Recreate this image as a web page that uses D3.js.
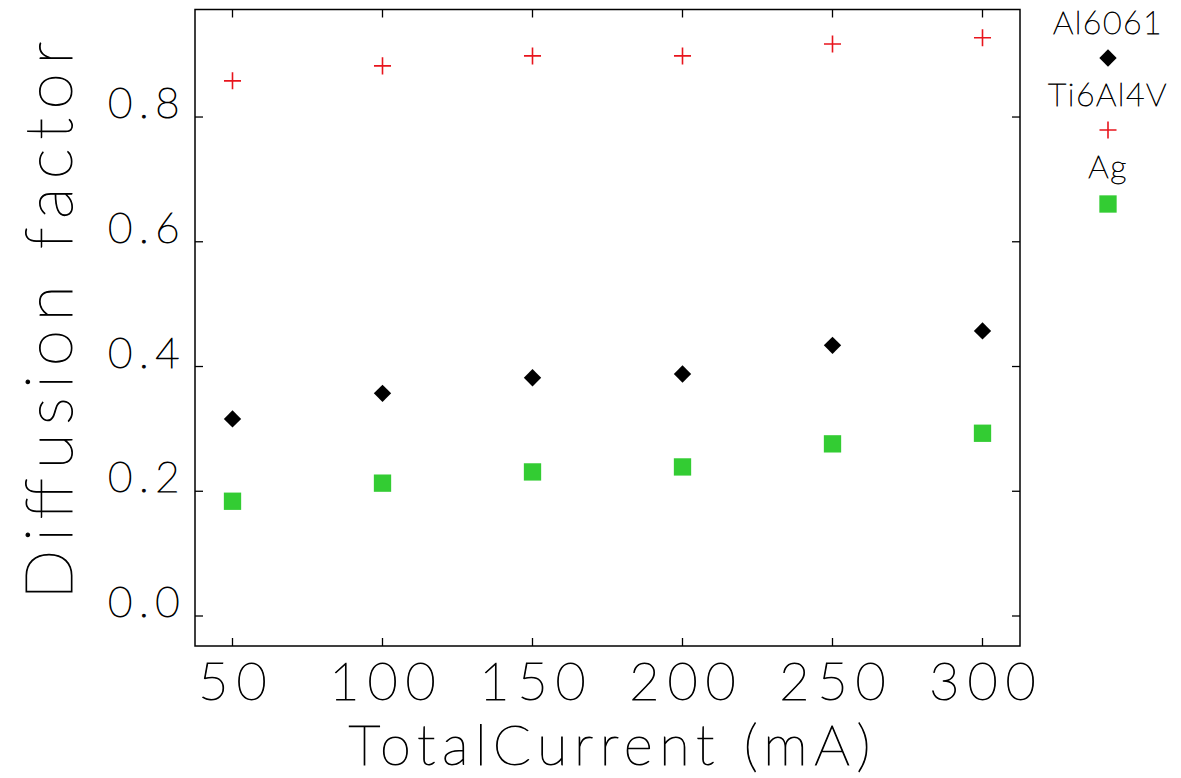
<!DOCTYPE html>
<html lang="en">
<head>
    <meta charset="UTF-8">
    <title>Diffusion factor vs Total Current</title>
    <script src="https://d3js.org/d3.v7.min.js"></script>
    <style>
        body {
            margin: 0;
            background: #fff;
        }
        svg text {
            font-family: Lato, "DejaVu Sans", sans-serif;
            font-weight: 200;
            fill: #000;
            stroke: #000;
            stroke-width: 1;
        }
        .frame {
            fill: none;
            stroke: #000;
            stroke-width: 1.5;
        }
        .tick-mark {
            stroke: #000;
            stroke-width: 1.3;
        }
    </style>
</head>
<body>
    <svg id="chart" width="1181" height="778"></svg>
    <script>
        // data
        const currents = [50, 100, 150, 200, 250, 300];
        const al6061 = [0.316, 0.357, 0.382, 0.388, 0.434, 0.457];
        const ti6al4v = [0.858, 0.882, 0.898, 0.898, 0.917, 0.927];
        const ag = [0.184, 0.213, 0.231, 0.239, 0.276, 0.293];
        const xTicks = [50, 100, 150, 200, 250, 300];
        const yTicks = [0.0, 0.2, 0.4, 0.6, 0.8];

        const plot = { left: 195, right: 1020, top: 9.5, bottom: 646 };

        const svg = d3.select("#chart");

        const x = d3.scaleLinear().domain([37.5, 312.5]).range([plot.left, plot.right]);
        const y = d3.scaleLinear().domain([-0.0481, 0.9724]).range([plot.bottom, plot.top]);

        // custom thin plus marker
        const plusType = {
            draw(ctx, size) {
                const r = Math.sqrt(size) / 2;
                ctx.moveTo(-r, 0); ctx.lineTo(r, 0);
                ctx.moveTo(0, -r); ctx.lineTo(0, r);
            }
        };

        const series = [
            { name: "Al6061", values: al6061, type: d3.symbolSquare, size: 150, rotate: 45, fill: "#000", stroke: "none" },
            { name: "Ti6Al4V", values: ti6al4v, type: plusType, size: 290, rotate: 0, fill: "none", stroke: "#e8141c" },
            { name: "Ag", values: ag, type: d3.symbolSquare, size: 300, rotate: 0, fill: "#33cc33", stroke: "none" }
        ];

        // frame
        svg.append("rect")
            .attr("class", "frame")
            .attr("x", plot.left)
            .attr("y", plot.top)
            .attr("width", plot.right - plot.left)
            .attr("height", plot.bottom - plot.top);

        const tickLen = 8;

        // x ticks (bottom and top, pointing inward)
        xTicks.forEach(t => {
            svg.append("line").attr("class", "tick-mark")
                .attr("x1", x(t)).attr("x2", x(t))
                .attr("y1", plot.bottom).attr("y2", plot.bottom - tickLen);
            svg.append("line").attr("class", "tick-mark")
                .attr("x1", x(t)).attr("x2", x(t))
                .attr("y1", plot.top).attr("y2", plot.top + tickLen);
            svg.append("text")
                .attr("x", x(t))
                .attr("y", plot.bottom + 54)
                .attr("text-anchor", "middle")
                .attr("font-size", 52)
                .attr("letter-spacing", 8)
                .attr("dx", 4)
                .text(t);
        });

        // y ticks (left and right, pointing inward)
        yTicks.forEach(t => {
            svg.append("line").attr("class", "tick-mark")
                .attr("x1", plot.left).attr("x2", plot.left + tickLen)
                .attr("y1", y(t)).attr("y2", y(t));
            svg.append("line").attr("class", "tick-mark")
                .attr("x1", plot.right).attr("x2", plot.right - tickLen)
                .attr("y1", y(t)).attr("y2", y(t));
            svg.append("text")
                .attr("x", plot.left - 9)
                .attr("y", y(t) + 1)
                .attr("text-anchor", "end")
                .attr("font-size", 42)
                .attr("letter-spacing", 6.5)
                .text(d3.format(".1f")(t));
        });

        // axis titles
        svg.append("text")
            .attr("x", (plot.left + plot.right) / 2 + 2)
            .attr("y", 765)
            .attr("text-anchor", "middle")
            .attr("font-size", 56)
            .attr("textLength", 522)
            .attr("lengthAdjust", "spacing")
            .text("TotalCurrent (mA)");

        svg.append("text")
            .attr("transform", `translate(72,${(plot.top + plot.bottom) / 2 - 7}) rotate(-90)`)
            .attr("text-anchor", "middle")
            .attr("font-size", 66)
            .attr("textLength", 558)
            .attr("lengthAdjust", "spacing")
            .text("Diffusion factor");

        // markers
        series.forEach(s => {
            svg.append("g")
                .selectAll("path")
                .data(currents.map((c, i) => [c, s.values[i]]))
                .join("path")
                .attr("transform", d => `translate(${x(d[0])},${y(d[1])}) rotate(${s.rotate})`)
                .attr("d", d3.symbol(s.type, s.size))
                .attr("fill", s.fill)
                .attr("stroke", s.stroke)
                .attr("stroke-width", 1.6);
        });

        // legend on the right
        const legendX = 1108;
        const legendRows = [
            { textY: 34, markY: 58 },
            { textY: 106, markY: 130 },
            { textY: 178, markY: 204 }
        ];
        series.forEach((s, i) => {
            svg.append("text")
                .attr("x", legendX)
                .attr("y", legendRows[i].textY)
                .attr("text-anchor", "middle")
                .attr("font-size", 32)
                .attr("letter-spacing", 1.5)
                .style("stroke-width", 0.8)
                .text(s.name);
            svg.append("path")
                .attr("transform", `translate(${legendX},${legendRows[i].markY}) rotate(${s.rotate})`)
                .attr("d", d3.symbol(s.type, s.size))
                .attr("fill", s.fill)
                .attr("stroke", s.stroke)
                .attr("stroke-width", 1.6);
        });
    </script>
</body>
</html>
